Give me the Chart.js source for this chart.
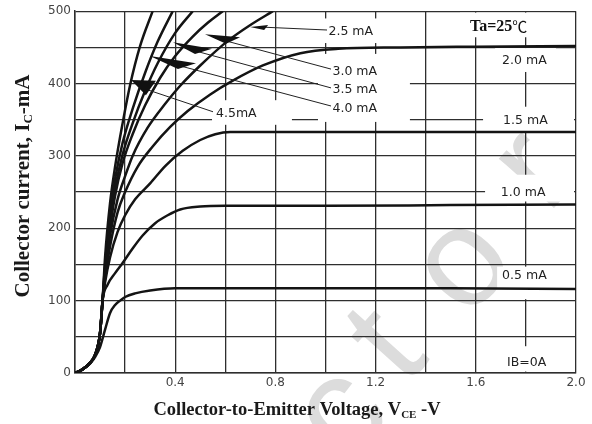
<!DOCTYPE html>
<html>
<head>
<meta charset="utf-8">
<script src="https://cdn.jsdelivr.net/npm/chart.js@4.4.1/dist/chart.umd.min.js"></script>
<style>
  html, body { margin: 0; padding: 0; background: #fff; }
  #wrap { width: 592px; height: 424px; }
</style>
</head>
<body>
<div id="wrap"><canvas id="chart" width="592" height="424"></canvas></div>
<script>
// Collector current Ic (mA) against Vce (V), one curve per base current
const ib05V = [0, 0.03, 0.06, 0.08, 0.1, 0.12, 0.14, 0.16, 0.18, 0.2, 0.24, 0.3, 0.4, 0.6, 1.0, 1.5, 2.0];
const ib05I = [0, 5, 13, 22, 36, 60, 83, 94, 100, 105, 110, 114, 117, 117, 117, 117, 116];

const ib10V = [0, 0.03, 0.06, 0.08, 0.1, 0.11, 0.13, 0.16, 0.19, 0.23, 0.27, 0.32, 0.37, 0.42, 0.5, 0.6, 1.0, 1.5, 2.0];
const ib10I = [0, 5, 14, 25, 55, 100, 122, 138, 152, 172, 190, 207, 218, 226, 230, 231, 231, 232, 233];

const ib15V = [0, 0.03, 0.06, 0.08, 0.1, 0.11, 0.12, 0.14, 0.17, 0.2, 0.24, 0.3, 0.36, 0.43, 0.5, 0.56, 0.62, 1.0, 1.5, 2.0];
const ib15I = [0, 5, 14, 25, 55, 100, 125, 160, 195, 218, 240, 262, 286, 307, 322, 330, 333, 333, 333, 333];

const ib20V = [0, 0.03, 0.06, 0.08, 0.1, 0.11, 0.12, 0.14, 0.17, 0.2, 0.25, 0.31, 0.38, 0.45, 0.54, 0.63, 0.75, 0.9, 1.05, 1.3, 1.6, 2.0];
const ib20I = [0, 5, 14, 25, 55, 100, 130, 175, 222, 250, 285, 313, 340, 362, 385, 404, 425, 442, 448, 450, 451, 452];

const ib25V = [0, 0.03, 0.06, 0.08, 0.1, 0.11, 0.12, 0.14, 0.17, 0.2, 0.23, 0.29, 0.36, 0.42, 0.5, 0.61, 0.7, 0.79];
const ib25I = [0, 5, 14, 25, 55, 100, 135, 190, 240, 272, 300, 339, 372, 397, 425, 459, 481, 500];

const ib30V = [0, 0.03, 0.06, 0.08, 0.1, 0.11, 0.12, 0.14, 0.16, 0.19, 0.23, 0.28, 0.34, 0.4, 0.47, 0.53, 0.59];
const ib30I = [0, 5, 14, 25, 55, 100, 140, 200, 245, 290, 330, 370, 408, 438, 465, 484, 500];

const ib35V = [0, 0.03, 0.06, 0.08, 0.1, 0.11, 0.12, 0.14, 0.16, 0.19, 0.23, 0.28, 0.33, 0.4, 0.47];
const ib35I = [0, 5, 14, 25, 55, 100, 145, 210, 255, 302, 345, 390, 428, 470, 500];

const ib40V = [0, 0.03, 0.06, 0.08, 0.1, 0.11, 0.12, 0.14, 0.16, 0.19, 0.23, 0.28, 0.33, 0.39];
const ib40I = [0, 5, 14, 25, 55, 100, 150, 220, 268, 318, 365, 415, 458, 500];

const ib45V = [0, 0.03, 0.06, 0.08, 0.1, 0.11, 0.12, 0.14, 0.16, 0.19, 0.22, 0.26, 0.31];
const ib45I = [0, 5, 14, 25, 55, 100, 160, 235, 285, 345, 398, 452, 500];

const xTickLabels = ['0.4', '0.8', '1.2', '1.6', '2.0'];
const yTickLabels = ['0', '100', '200', '300', '400', '500'];

// curve labels, in data units (left edge, middle)
const curveLabels = [
    { t: '2.5 mA', x: 1.012, y: 472 },
    { t: '3.0 mA', x: 1.028, y: 417 },
    { t: '3.5 mA', x: 1.028, y: 391 },
    { t: '4.0 mA', x: 1.028, y: 365 },
    { t: '4.5mA', x: 0.563, y: 358 },
    { t: '2.0 mA', x: 1.705, y: 432 },
    { t: '1.5 mA', x: 1.709, y: 348 },
    { t: '1.0 mA', x: 1.70, y: 249 },
    { t: '0.5 mA', x: 1.705, y: 134 },
    { t: 'IB=0A', x: 1.725, y: 14 }
];

// arrowheads: tip, two base corners, then leader line start/end
const arrows = [
    { tip: [0.699, 478], b1: [0.771, 481], b2: [0.755, 474], from: [0.747, 478], to: [1.006, 474] },
    { tip: [0.519, 468], b1: [0.659, 464], b2: [0.603, 455], from: [0.559, 463], to: [1.022, 420] },
    { tip: [0.391, 457], b1: [0.547, 448], b2: [0.479, 441], from: [0.439, 449], to: [1.022, 394] },
    { tip: [0.299, 438], b1: [0.483, 428], b2: [0.411, 420], from: [0.359, 430], to: [1.022, 369] },
    { tip: [0.224, 405], b1: [0.323, 404], b2: [0.283, 384], from: [0.267, 394], to: [0.551, 361] }
];

// white patches behind the labels, where the grid is broken
const gaps = [
    [0.898, 490, 1.337, 456],
    [0.970, 441, 1.337, 347],
    [0.547, 377, 0.866, 343],
    [1.537, 498, 1.936, 464],
    [1.677, 449, 1.920, 416],
    [1.629, 368, 1.992, 334],
    [1.637, 274, 1.992, 237],
    [1.685, 147, 1.920, 102],
    [1.685, 37, 1.920, 2]
];

function series(xs, ys) {
    return xs.map((v, i) => ({ x: v, y: ys[i] }));
}

function curve(xs, ys) {
    return {
        data: series(xs, ys),
        borderColor: '#141414',
        borderWidth: 2.5,
        pointRadius: 0,
        fill: false,
        cubicInterpolationMode: 'monotone'
    };
}

const dieLabels = {
    id: 'dieLabels',
    beforeDraw(chart) {
        const ctx = chart.ctx;
        ctx.save();
        ctx.fillStyle = '#fff';
        ctx.fillRect(0, 0, chart.width, chart.height);
        // faint watermark
        ctx.fillStyle = '#dcdcdc';
        ctx.font = '140px "Liberation Sans"';
        ctx.textAlign = 'center';
        ctx.textBaseline = 'middle';
        [['c', 338, 412], ['t', 392, 350], ['o', 460, 262], ['r', 530, 168]].forEach(g => {
            ctx.save();
            ctx.translate(g[1], g[2]);
            ctx.rotate(-48 * Math.PI / 180);
            ctx.fillText(g[0], 0, g[0] === 't' ? -4 : 6);
            ctx.restore();
        });
        ctx.restore();
    },
    beforeDatasetsDraw(chart) {
        const ctx = chart.ctx;
        const xs = chart.scales.x, ys = chart.scales.y;
        ctx.save();
        ctx.fillStyle = '#fff';
        gaps.forEach(g => {
            const x0 = xs.getPixelForValue(g[0]), y0 = ys.getPixelForValue(g[1]);
            const x1 = xs.getPixelForValue(g[2]), y1 = ys.getPixelForValue(g[3]);
            ctx.fillRect(x0, y0, x1 - x0, y1 - y0);
        });
        ctx.restore();
    },
    afterDatasetsDraw(chart) {
        const ctx = chart.ctx;
        const xs = chart.scales.x, ys = chart.scales.y;
        const P = p => [xs.getPixelForValue(p[0]), ys.getPixelForValue(p[1])];
        ctx.save();

        // leader lines and arrowheads
        ctx.strokeStyle = '#222';
        ctx.fillStyle = '#111';
        ctx.lineWidth = 1;
        arrows.forEach(a => {
            const f = P(a.from), t = P(a.to);
            ctx.beginPath();
            ctx.moveTo(f[0], f[1]);
            ctx.lineTo(t[0], t[1]);
            ctx.stroke();
            const tp = P(a.tip), b1 = P(a.b1), b2 = P(a.b2);
            ctx.beginPath();
            ctx.moveTo(tp[0], tp[1]);
            ctx.lineTo(b1[0], b1[1]);
            ctx.lineTo(b2[0], b2[1]);
            ctx.closePath();
            ctx.fill();
        });

        // curve labels
        ctx.fillStyle = '#222';
        ctx.font = '12.5px "DejaVu Sans"';
        ctx.textAlign = 'left';
        ctx.textBaseline = 'middle';
        curveLabels.forEach(l => {
            const p = P([l.x, l.y]);
            ctx.fillText(l.t, p[0], p[1]);
        });

        // Ta=25 C
        const ta = P([1.577, 479]);
        ctx.fillStyle = '#111';
        ctx.font = 'bold 16px "Liberation Serif"';
        ctx.fillText('Ta=25', ta[0], ta[1]);
        const w = ctx.measureText('Ta=25').width;
        ctx.font = '15px "Noto Sans CJK SC"';
        ctx.fillText('\u2103', ta[0] + w, ta[1]);

        // axis titles with subscripts
        ctx.fillStyle = '#1a1a1a';
        ctx.textBaseline = 'alphabetic';
        function drawTitle(parts, size, cx, cy, angle) {
            const big = 'bold ' + size + 'px "Liberation Serif"';
            const small = 'bold ' + Math.round(size * 0.6) + 'px "Liberation Serif"';
            let total = 0;
            parts.forEach(p => { ctx.font = p[1] ? small : big; total += ctx.measureText(p[0]).width; });
            ctx.save();
            ctx.translate(cx, cy);
            ctx.rotate(angle);
            let x = -total / 2;
            parts.forEach(p => {
                ctx.font = p[1] ? small : big;
                ctx.fillText(p[0], x, p[1] ? 3 : 0);
                x += ctx.measureText(p[0]).width;
            });
            ctx.restore();
        }
        drawTitle([['Collector-to-Emitter Voltage, V', false], ['CE', true], [' -V', false]], 18.5, 297, 415, 0);
        drawTitle([['Collector current, I', false], ['C', true], ['-mA', false]], 21, 29, 186, -Math.PI / 2);
        ctx.restore();
    }
};

const ctx = document.getElementById('chart').getContext('2d');
new Chart(ctx, {
    type: 'line',
    data: {
        datasets: [
            curve(ib05V, ib05I),
            curve(ib10V, ib10I),
            curve(ib15V, ib15I),
            curve(ib20V, ib20I),
            curve(ib25V, ib25I),
            curve(ib30V, ib30I),
            curve(ib35V, ib35I),
            curve(ib40V, ib40I),
            curve(ib45V, ib45I)
        ]
    },
    options: {
        responsive: false,
        animation: false,
        devicePixelRatio: 1,
        layout: { padding: { top: 10, right: 16, left: 0, bottom: 0 } },
        plugins: { legend: { display: false }, tooltip: { enabled: false } },
        scales: {
            x: {
                type: 'linear',
                min: 0,
                max: 2,
                afterFit(scale) { scale.height = 51; },
                ticks: {
                    stepSize: 0.2,
                    autoSkip: false,
                    maxRotation: 0,
                    padding: 3,
                    color: '#444',
                    font: { family: 'DejaVu Sans', size: 12 },
                    callback: v => {
                        const s = v.toFixed(1);
                        return xTickLabels.includes(s) ? s : '';
                    }
                },
                grid: { color: '#2e2e2e', lineWidth: 1.3, drawTicks: false },
                border: { color: '#2e2e2e', width: 1.5 }
            },
            y: {
                min: 0,
                max: 500,
                afterFit(scale) { scale.width = 75; },
                ticks: {
                    stepSize: 50,
                    padding: 4,
                    color: '#444',
                    font: { family: 'DejaVu Sans', size: 12 },
                    callback: v => yTickLabels.includes(String(v)) ? String(v) : ''
                },
                grid: { color: '#2e2e2e', lineWidth: 1.3, drawTicks: false },
                border: { color: '#2e2e2e', width: 1.5 }
            }
        }
    },
    plugins: [dieLabels]
});
</script>
</body>
</html>
